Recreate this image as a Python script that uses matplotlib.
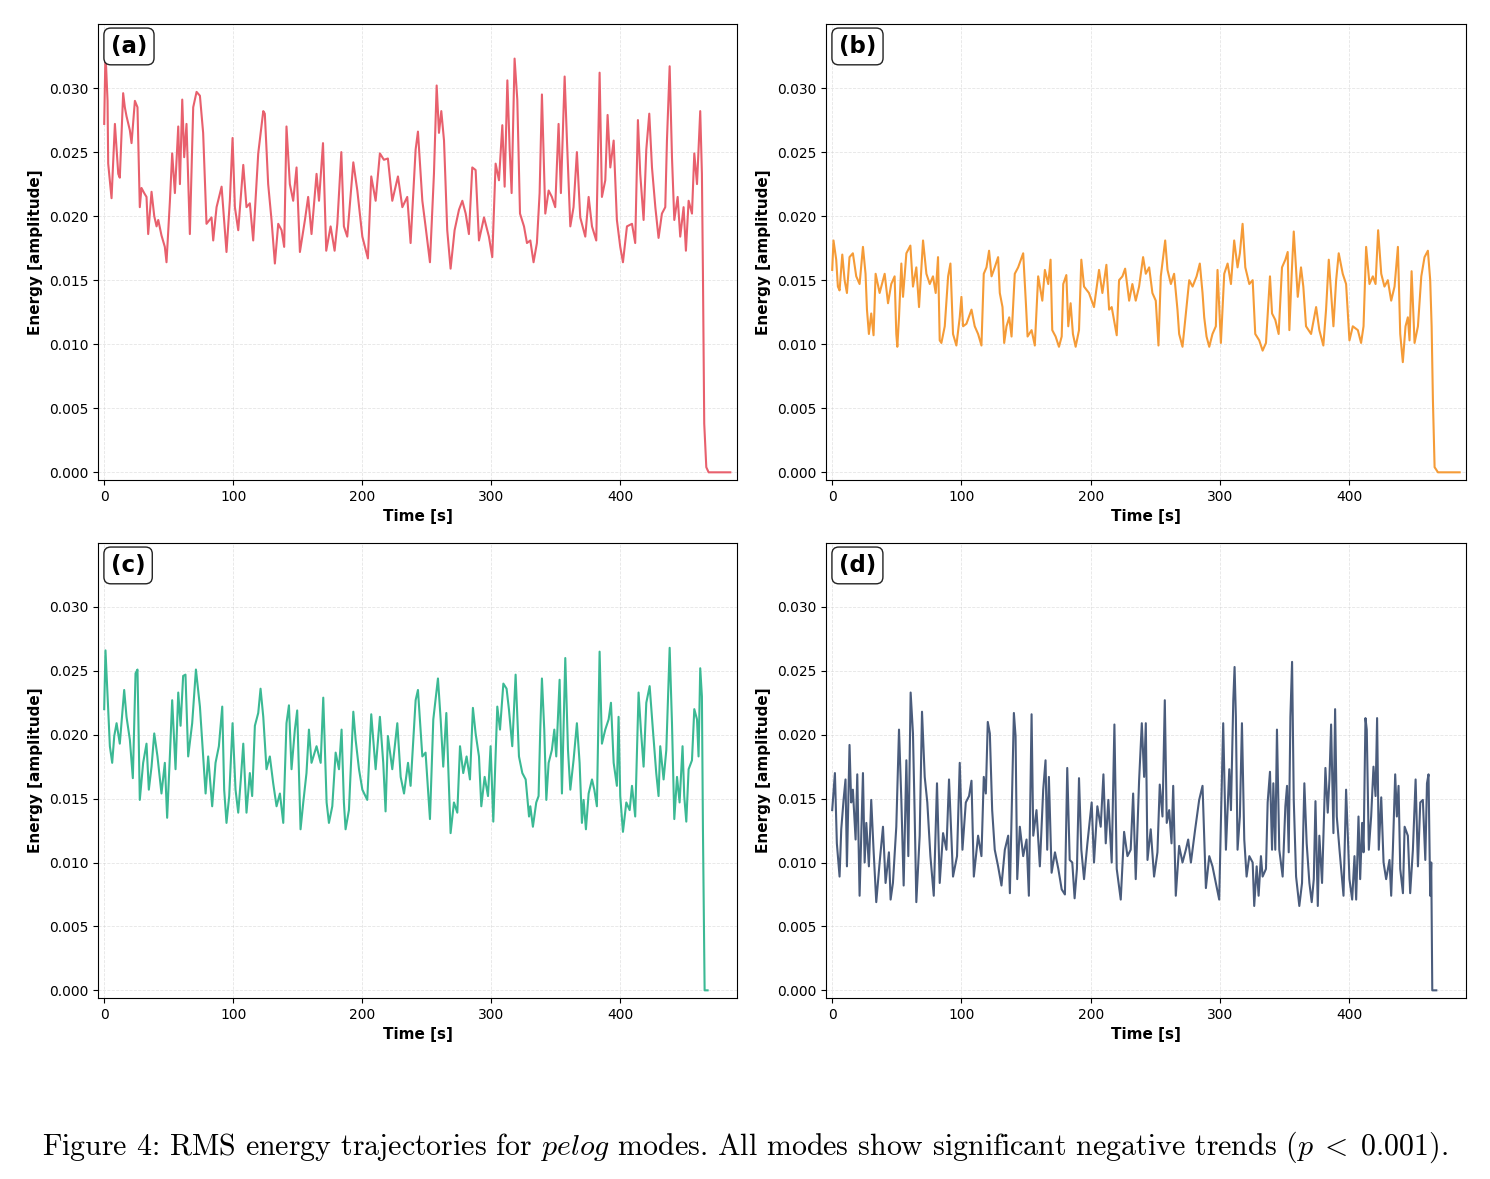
import numpy as np
import matplotlib
matplotlib.use("Agg")
import matplotlib.pyplot as plt
from matplotlib.ticker import FormatStrFormatter

# ---- values (time in s, RMS energy) ----
t_a = [0, 1.0, 2.6, 3.1, 5.7, 8.3, 10.9, 12.1, 14.7, 16.0, 17.3, 19.9, 21.2, 23.8, 25.8, 27.6,
       28.9, 31.0, 32.8, 34.1, 36.7, 38.8, 40.6, 41.9, 44.4, 47.0, 48.3, 50.9, 52.7, 54.8, 57.4,
       58.7, 60.5, 62.0, 63.8, 66.4, 69.0, 71.6, 74.2, 76.7, 79.3, 83.2, 84.5, 87.1, 91.0, 94.8,
       97.4, 99.5, 101.3, 103.9, 107.8, 110.3, 112.9, 115.5, 119.4, 123.3, 124.5, 127.1, 129.7,
       132.3, 134.9, 137.5, 139.5, 141.3, 143.9, 146.5, 149.1, 151.7, 155.6, 158.1, 160.7, 164.6,
       166.5, 169.6, 172.1, 175.5, 178.6, 180.7, 183.8, 185.8, 188.4, 193.1, 196.2, 200.1, 204.4,
       207.0, 210.4, 213.7, 216.8, 219.9, 223.3, 227.7, 231.1, 234.9, 237.5, 241.4, 243.2, 246.6,
       249.1, 252.5, 255.6, 257.7, 259.5, 261.3, 263.4, 265.9, 268.5, 271.6, 275.0, 277.6, 280.2,
       282.7, 285.3, 287.9, 290.5, 294.4, 298.2, 300.8, 303.4, 306.0, 308.6, 310.4, 312.5, 314.3,
       315.8, 318.1, 320.2, 322.3, 325.4, 327.7, 330.3, 332.8, 335.4, 337.5, 339.3, 341.9, 344.5,
       347.0, 349.6, 352.2, 354.0, 356.9, 358.7, 361.3, 363.8, 366.4, 369.0, 372.9, 375.5, 378.1,
       381.4, 384.0, 385.8, 388.4, 390.2, 392.3, 394.9, 397.4, 400.0, 402.1, 405.2, 409.1, 411.6,
       413.7, 415.5, 418.1, 420.2, 422.5, 424.6, 427.2, 429.7, 432.3, 434.9, 436.2, 438.3, 440.1,
       441.9, 444.5, 446.5, 449.1, 450.9, 453.0, 455.6, 457.4, 459.5, 462.0, 463.3, 464.1, 465.1,
       466.7, 468.5, 485.3]
e_a = [.0272, .0328, .0290, .0241, .0214, .0272, .0233, .0230, .0296, .0285, .0278, .0267, .0257,
       .0290, .0285, .0207, .0222, .0218, .0215, .0186, .0219, .0200, .0192, .0197, .0185, .0176,
       .0164, .0211, .0249, .0218, .0270, .0225, .0291, .0246, .0272, .0186, .0285, .0297, .0294,
       .0265, .0194, .0199, .0181, .0207, .0223, .0172, .0212, .0261, .0207, .0189, .0240, .0207,
       .0210, .0181, .0249, .0282, .0280, .0225, .0197, .0163, .0194, .0189, .0176, .0270, .0225,
       .0212, .0238, .0172, .0197, .0215, .0186, .0233, .0212, .0257, .0173, .0192, .0173, .0194,
       .0250, .0192, .0184, .0242, .0220, .0184, .0167, .0231, .0212, .0249, .0244, .0245, .0212,
       .0231, .0207, .0215, .0179, .0252, .0266, .0212, .0192, .0164, .0233, .0302, .0265, .0282,
       .0259, .0189, .0159, .0189, .0205, .0212, .0202, .0186, .0238, .0236, .0181, .0199, .0184,
       .0168, .0241, .0228, .0271, .0223, .0306, .0252, .0218, .0323, .0291, .0202, .0192, .0179,
       .0181, .0164, .0179, .0218, .0295, .0202, .0220, .0215, .0207, .0272, .0218, .0309, .0259,
       .0192, .0207, .0250, .0199, .0184, .0215, .0192, .0181, .0312, .0215, .0228, .0279, .0238,
       .0259, .0197, .0176, .0164, .0192, .0194, .0179, .0275, .0233, .0197, .0252, .0280, .0238,
       .0207, .0183, .0202, .0207, .0259, .0317, .0246, .0197, .0215, .0184, .0207, .0173, .0212,
       .0202, .0249, .0225, .0282, .0233, .0155, .0038, .0004, .0000, .0000]

t_b = [0, 1.0, 3.1, 4.4, 5.7, 7.8, 9.6, 11.4, 13.4, 16.0, 18.6, 21.2, 23.8, 25.8, 26.9, 28.4,
       30.2, 32.0, 33.6, 36.7, 40.6, 43.2, 45.7, 48.3, 49.6, 50.4, 51.7, 53.5, 54.8, 57.4, 60.5,
       62.5, 65.1, 67.2, 70.3, 72.9, 75.5, 78.0, 80.1, 81.9, 83.2, 84.5, 87.1, 89.7, 91.5, 93.5,
       96.1, 98.7, 100.0, 101.3, 103.9, 107.8, 110.3, 112.9, 115.5, 117.3, 119.4, 121.4, 123.3,
       125.8, 128.4, 129.7, 131.8, 133.1, 134.9, 137.0, 138.8, 141.3, 143.9, 147.8, 149.9, 151.2,
       154.3, 156.8, 159.4, 162.6, 164.6, 167.2, 169.0, 170.3, 172.9, 175.5, 177.6, 178.8, 181.2,
       182.7, 184.5, 186.3, 188.4, 191.0, 192.8, 194.9, 198.7, 202.6, 206.5, 209.1, 212.2, 214.3,
       216.3, 218.1, 220.2, 222.0, 224.6, 226.7, 229.8, 232.3, 234.9, 237.5, 240.6, 242.7, 245.3,
       247.8, 250.4, 252.5, 254.3, 256.1, 257.7, 259.5, 262.1, 264.6, 267.2, 268.5, 271.1, 273.7,
       276.3, 278.9, 282.0, 284.5, 286.6, 287.9, 289.7, 291.8, 294.3, 296.9, 298.2, 300.8, 303.4,
       306.0, 308.6, 311.1, 313.7, 315.5, 317.6, 319.7, 322.8, 325.4, 327.4, 330.5, 333.1, 335.7,
       338.8, 340.4, 342.9, 345.5, 348.1, 350.7, 352.5, 353.8, 355.6, 357.2, 359.0, 360.3, 362.8,
       364.6, 366.7, 370.6, 374.5, 377.0, 380.1, 382.2, 384.3, 386.1, 387.9, 390.0, 392.0, 395.1,
       397.7, 400.3, 402.9, 406.8, 409.3, 411.2, 413.2, 415.8, 418.4, 420.5, 422.5, 424.9, 427.4,
       430.0, 432.6, 435.2, 437.8, 439.6, 441.6, 443.7, 445.5, 446.8, 448.4, 450.7, 453.3, 455.9,
       458.4, 461.0, 462.8, 463.9, 464.9, 466.2, 468.8, 485.6]
e_b = [.0158, .0181, .0166, .0145, .0142, .0170, .0150, .0140, .0168, .0171, .0153, .0147, .0176,
       .0155, .0127, .0108, .0124, .0107, .0155, .0140, .0155, .0132, .0147, .0153, .0108, .0098,
       .0121, .0163, .0137, .0171, .0177, .0145, .0160, .0129, .0181, .0155, .0147, .0153, .0140,
       .0168, .0103, .0101, .0114, .0153, .0163, .0108, .0099, .0121, .0137, .0114, .0116, .0127,
       .0114, .0108, .0099, .0155, .0160, .0173, .0153, .0160, .0168, .0140, .0129, .0101, .0114,
       .0121, .0106, .0155, .0160, .0171, .0132, .0106, .0111, .0099, .0153, .0134, .0158, .0147,
       .0166, .0111, .0106, .0098, .0106, .0147, .0154, .0114, .0132, .0108, .0098, .0111, .0166,
       .0145, .0140, .0129, .0158, .0140, .0162, .0127, .0129, .0119, .0107, .0150, .0153, .0159,
       .0134, .0147, .0134, .0145, .0168, .0155, .0160, .0140, .0134, .0099, .0153, .0168, .0181,
       .0158, .0147, .0155, .0127, .0108, .0098, .0124, .0150, .0145, .0153, .0163, .0140, .0121,
       .0106, .0098, .0108, .0114, .0158, .0101, .0155, .0163, .0147, .0181, .0160, .0171, .0194,
       .0160, .0147, .0150, .0108, .0103, .0095, .0101, .0153, .0124, .0119, .0108, .0160, .0166,
       .0172, .0111, .0155, .0188, .0158, .0137, .0160, .0145, .0114, .0108, .0129, .0111, .0099,
       .0127, .0166, .0140, .0114, .0150, .0171, .0155, .0147, .0103, .0114, .0111, .0101, .0114,
       .0176, .0147, .0153, .0147, .0189, .0155, .0145, .0150, .0134, .0145, .0176, .0108, .0086,
       .0114, .0121, .0103, .0157, .0101, .0114, .0153, .0168, .0173, .0150, .0114, .0056, .0004,
       .0000, .0000]

t_c = [0, 1.0, 2.6, 4.4, 6.2, 7.8, 9.6, 12.1, 14.0, 15.5, 17.3, 19.9, 22.2, 24.3, 25.8, 27.6,
       30.2, 32.8, 34.6, 36.7, 38.8, 41.3, 44.4, 47.0, 48.8, 50.9, 52.7, 55.3, 57.4, 59.2, 61.2,
       63.0, 65.1, 68.2, 71.1, 74.2, 76.7, 78.6, 80.6, 83.7, 86.3, 88.9, 91.5, 93.0, 94.8, 96.9,
       99.5, 101.8, 103.9, 105.9, 107.8, 110.3, 112.9, 114.7, 116.8, 119.4, 121.2, 123.3, 125.8,
       128.4, 131.0, 133.6, 136.2, 138.8, 141.3, 143.2, 145.2, 147.8, 149.6, 152.2, 154.3, 156.8,
       158.7, 160.7, 164.6, 167.8, 169.8, 172.4, 174.2, 176.8, 179.4, 182.0, 184.0, 185.8, 187.1,
       189.7, 193.1, 194.9, 197.5, 200.1, 203.9, 207.0, 210.4, 213.7, 216.3, 218.1, 219.9, 223.3,
       227.2, 229.8, 232.4, 235.5, 237.5, 241.4, 243.2, 246.6, 249.1, 252.5, 255.1, 258.7, 260.8,
       262.8, 265.2, 268.5, 271.1, 273.7, 275.8, 278.3, 280.9, 283.5, 285.8, 287.9, 290.5, 292.3,
       294.9, 297.5, 299.5, 301.6, 304.7, 306.8, 309.4, 311.9, 313.7, 316.3, 318.9, 321.5, 324.1,
       326.7, 329.3, 330.3, 332.3, 334.9, 336.7, 338.0, 339.3, 341.1, 342.7, 344.5, 347.0, 348.9,
       350.4, 353.0, 354.8, 357.4, 359.5, 361.3, 363.8, 366.4, 368.5, 370.3, 371.6, 373.4, 375.5,
       378.1, 379.9, 381.9, 384.0, 385.8, 388.4, 391.0, 392.8, 394.9, 397.4, 398.7, 400.0, 402.1,
       404.7, 407.3, 409.1, 411.6, 414.2, 416.0, 418.1, 420.2, 422.8, 425.3, 427.9, 429.7, 431.0,
       433.6, 435.7, 438.3, 440.1, 441.9, 444.0, 446.0, 448.3, 449.6, 451.2, 453.0, 455.6, 457.4,
       459.5, 460.7, 462.0, 463.3, 464.1, 465.4, 467.7]
e_c = [.0220, .0266, .0230, .0191, .0178, .0199, .0209, .0193, .0217, .0235, .0214, .0196, .0166,
       .0248, .0251, .0149, .0178, .0193, .0157, .0175, .0201, .0183, .0154, .0178, .0135, .0183,
       .0227, .0173, .0233, .0207, .0246, .0247, .0183, .0209, .0251, .0222, .0183, .0154, .0183,
       .0144, .0178, .0191, .0222, .0157, .0131, .0152, .0209, .0157, .0139, .0165, .0193, .0139,
       .0170, .0152, .0207, .0217, .0236, .0214, .0173, .0183, .0162, .0144, .0154, .0131, .0209,
       .0223, .0173, .0204, .0219, .0126, .0147, .0170, .0204, .0178, .0191, .0178, .0229, .0147,
       .0131, .0144, .0186, .0173, .0204, .0147, .0126, .0141, .0218, .0196, .0173, .0157, .0149,
       .0216, .0173, .0214, .0178, .0140, .0199, .0173, .0209, .0167, .0154, .0178, .0160, .0227,
       .0235, .0183, .0186, .0134, .0212, .0244, .0212, .0175, .0217, .0123, .0147, .0139, .0191,
       .0170, .0183, .0165, .0221, .0201, .0183, .0144, .0167, .0152, .0191, .0132, .0222, .0204,
       .0240, .0236, .0220, .0191, .0247, .0183, .0170, .0165, .0136, .0144, .0128, .0147, .0152,
       .0204, .0244, .0204, .0149, .0178, .0188, .0204, .0183, .0243, .0154, .0260, .0188, .0157,
       .0180, .0209, .0178, .0131, .0149, .0126, .0154, .0165, .0157, .0144, .0265, .0193, .0204,
       .0212, .0225, .0178, .0160, .0214, .0152, .0124, .0147, .0141, .0160, .0136, .0233, .0204,
       .0175, .0225, .0238, .0204, .0170, .0152, .0191, .0165, .0188, .0268, .0209, .0134, .0167,
       .0147, .0191, .0152, .0132, .0173, .0180, .0220, .0212, .0183, .0252, .0230, .0126, .0000,
       .0000]

t_d = [0, 2.1, 3.6, 5.7, 7.0, 8.8, 10.3, 11.4, 13.4, 14.7, 16.0, 18.1, 19.4, 21.2, 23.8, 25.1,
       26.4, 28.4, 30.2, 32.0, 34.1, 36.7, 39.3, 41.3, 43.9, 45.2, 47.0, 49.6, 51.7, 53.5, 55.3,
       57.4, 58.9, 60.7, 62.5, 63.8, 65.1, 67.7, 69.5, 71.6, 73.6, 76.0, 78.6, 81.1, 83.2, 85.8,
       88.4, 90.4, 93.5, 96.6, 98.7, 100.8, 103.4, 105.9, 107.8, 109.6, 112.9, 115.5, 117.3, 118.9,
       120.4, 122.0, 123.8, 125.8, 128.4, 131.0, 133.6, 136.2, 137.5, 138.8, 140.6, 141.9, 143.2,
       145.2, 147.8, 150.4, 152.2, 154.3, 155.6, 158.1, 160.7, 163.3, 165.1, 166.4, 167.7, 169.8,
       172.4, 175.0, 177.6, 180.1, 181.9, 183.8, 185.8, 187.6, 189.4, 191.0, 192.8, 194.9, 197.5,
       200.8, 202.6, 205.2, 207.8, 209.9, 211.7, 213.7, 216.3, 218.4, 220.2, 223.3, 225.9, 228.5,
       231.0, 232.9, 234.9, 237.5, 239.6, 241.4, 242.7, 244.0, 246.5, 249.1, 251.7, 253.5, 255.6,
       257.4, 258.9, 260.8, 262.6, 263.9, 265.9, 268.5, 271.1, 273.7, 275.5, 277.6, 280.9, 284.0,
       286.6, 289.2, 291.8, 294.3, 296.9, 299.5, 300.8, 302.6, 304.7, 307.3, 308.6, 310.4, 311.4,
       312.4, 313.7, 315.5, 317.1, 318.9, 320.7, 322.8, 325.4, 326.6, 328.5, 330.0, 331.8, 333.1,
       335.7, 337.0, 338.8, 340.4, 341.4, 342.9, 344.2, 346.0, 348.6, 350.7, 352.0, 353.3, 354.6,
       355.9, 357.2, 359.0, 361.5, 363.6, 365.4, 367.2, 369.3, 371.1, 372.7, 374.0, 375.8, 377.0,
       379.1, 381.7, 383.5, 384.8, 386.1, 387.9, 389.2, 390.5, 392.6, 395.7, 397.7, 400.3, 402.4,
       404.2, 405.5, 407.3, 408.6, 410.1, 411.2, 412.7, 413.7, 415.3, 417.1, 418.9, 420.5, 421.7,
       423.0, 424.9, 426.7, 428.7, 431.3, 432.6, 433.9, 435.7, 437.0, 438.3, 439.6, 441.7, 443.0,
       445.5, 447.3, 449.4, 451.5, 453.3, 455.1, 457.1, 459.0, 460.3, 461.5, 462.8, 463.6, 464.4,
       467.5]
e_d = [.0141, .0170, .0115, .0089, .0126, .0149, .0165, .0097, .0192, .0147, .0157, .0118, .0169,
       .0074, .0170, .0100, .0131, .0097, .0149, .0110, .0069, .0100, .0128, .0084, .0108, .0071,
       .0084, .0128, .0204, .0149, .0082, .0180, .0105, .0233, .0201, .0139, .0069, .0121, .0218,
       .0167, .0147, .0105, .0074, .0162, .0084, .0123, .0110, .0165, .0089, .0105, .0178, .0110,
       .0147, .0152, .0164, .0089, .0121, .0105, .0167, .0154, .0210, .0201, .0141, .0110, .0097,
       .0082, .0110, .0121, .0076, .0136, .0217, .0199, .0087, .0128, .0105, .0118, .0074, .0216,
       .0121, .0141, .0097, .0157, .0180, .0110, .0167, .0092, .0108, .0095, .0079, .0075, .0174,
       .0102, .0100, .0072, .0095, .0166, .0110, .0087, .0115, .0147, .0100, .0144, .0128, .0169,
       .0115, .0149, .0100, .0208, .0095, .0071, .0124, .0105, .0110, .0154, .0087, .0164, .0209,
       .0167, .0209, .0102, .0126, .0089, .0108, .0161, .0136, .0227, .0131, .0141, .0115, .0160,
       .0074, .0113, .0100, .0110, .0118, .0100, .0126, .0149, .0160, .0080, .0105, .0097, .0084,
       .0071, .0131, .0209, .0110, .0173, .0141, .0227, .0253, .0214, .0110, .0136, .0209, .0118,
       .0089, .0105, .0100, .0066, .0097, .0074, .0105, .0089, .0095, .0147, .0171, .0110, .0162,
       .0110, .0204, .0110, .0089, .0144, .0160, .0108, .0214, .0257, .0149, .0089, .0066, .0084,
       .0162, .0115, .0084, .0069, .0087, .0148, .0066, .0121, .0084, .0174, .0139, .0165, .0208,
       .0123, .0220, .0136, .0110, .0074, .0157, .0087, .0071, .0105, .0071, .0136, .0087, .0131,
       .0108, .0213, .0204, .0110, .0136, .0175, .0152, .0213, .0110, .0151, .0100, .0087, .0102,
       .0074, .0110, .0169, .0136, .0160, .0095, .0076, .0128, .0121, .0076, .0110, .0165, .0097,
       .0147, .0149, .0102, .0162, .0169, .0074, .0100, .0000, .0000]

panel_tags = ["(a)", "(b)", "(c)", "(d)"]
line_colors = ["#E8606D", "#F59B37", "#3BB994", "#4A5C7C"]
x_ticks = [0, 100, 200, 300, 400]
y_ticks = [0.000, 0.005, 0.010, 0.015, 0.020, 0.025, 0.030]
caption = (r"Figure 4: RMS energy trajectories for $\mathit{pelog}$ modes. "
           r"All modes show significant negative trends ($p\;<\;0.001$).")

plt.rcParams["mathtext.fontset"] = "cm"

W, H = 1490, 1179
fig = plt.figure(figsize=(W / 100, H / 100), dpi=100)

# axes boxes in pixels: left, top, right, bottom
boxes = [(98, 24, 737, 480), (826, 24, 1466, 480),
         (98, 543, 737, 998), (826, 543, 1466, 998)]
series = [(t_a, e_a), (t_b, e_b), (t_c, e_c), (t_d, e_d)]

for (l, t, r, b), (tt, ee), tag, col in zip(boxes, series, panel_tags, line_colors):
    ax = fig.add_axes([l / W, 1 - b / H, (r - l) / W, (b - t) / H])
    ax.plot(tt, ee, color=col, lw=1.5)
    ax.set_xlim(-4.8, 490.5)
    ax.set_ylim(-0.0006, 0.035)
    ax.set_xticks(x_ticks)
    ax.set_yticks(y_ticks)
    ax.yaxis.set_major_formatter(FormatStrFormatter("%.3f"))
    ax.tick_params(labelsize=10)
    ax.grid(True, ls="--", lw=0.6, color="#cccccc", alpha=0.5)
    ax.set_xlabel("Time [s]", fontsize=11, fontweight="bold")
    ax.set_ylabel("Energy [amplitude]", fontsize=11, fontweight="bold")
    ax.text(0.02, 0.976, tag, transform=ax.transAxes, fontsize=16.5, fontweight="bold",
            va="top", ha="left",
            bbox=dict(boxstyle="round,pad=0.3", fc="white", ec="#222222", lw=1.0))

fig.text(0.5, 1 - 1147 / H, caption, ha="center", va="center",
         fontsize=21.5, family="cmr10")

fig.savefig("out.png", dpi=100)
